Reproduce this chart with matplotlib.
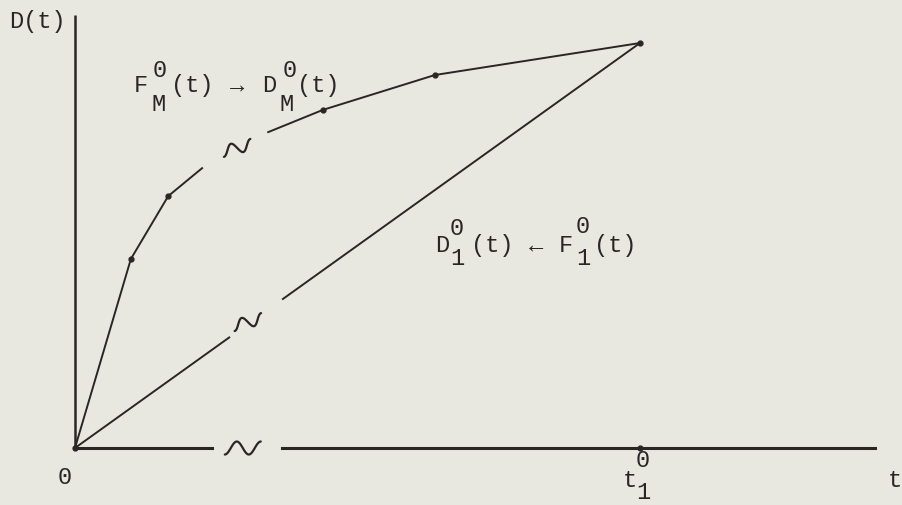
import matplotlib
matplotlib.use("Agg")
import matplotlib.pyplot as plt
import matplotlib.transforms as mtransforms
import numpy as np

# upper curve F_M^0(t) -> D_M^0(t), broken between index 3 and 4
t_upper = [0.0, 0.099, 0.165, 0.225, 0.342, 0.439, 0.637, 1.0]
d_upper = [0.0, 0.467, 0.622, 0.691, 0.780, 0.835, 0.921, 1.0]
upper_break = 4
upper_dots = [1, 2, 5, 6, 7]

# straight line D_1^0(t) <- F_1^0(t), with a gap
t_lower = [0.0, 0.273, 0.368, 1.0]
d_lower = [0.0, 0.273, 0.368, 1.0]

# horizontal axis, with a gap
t_axis = [0.0, 0.242, 0.366, 1.416]
y_top = 1.069
t1 = 1.0

ink = "#2a2626"
bg = "#e8e8e0"
mono = ["Liberation Mono", "DejaVu Sans Mono"]

fig = plt.figure(figsize=(9.02, 5.05), dpi=100, facecolor=bg)
ax = fig.add_axes([0, 0, 1, 1])
ax.set_facecolor(bg)
ax.set_xlim(-0.1327, 1.4637)
ax.set_ylim(-0.1407, 1.1062)
ax.axis("off")

# axes
ax.plot([0, 0], [0, y_top], color=ink, lw=1.8, solid_capstyle="butt")
ax.plot(t_axis[:2], [0, 0], color=ink, lw=2.2)
ax.plot(t_axis[2:], [0, 0], color=ink, lw=2.2)

# curves
ax.plot(t_upper[:upper_break], d_upper[:upper_break], color=ink, lw=1.4)
ax.plot(t_upper[upper_break:], d_upper[upper_break:], color=ink, lw=1.4)
ax.plot([t_upper[i] for i in upper_dots], [d_upper[i] for i in upper_dots],
        "o", color=ink, ms=3.5)
ax.plot(t_lower[:2], d_lower[:2], color=ink, lw=1.4)
ax.plot(t_lower[2:], d_lower[2:], color=ink, lw=1.4)
ax.plot([0, t1], [0, 0], "o", color=ink, ms=3.5)


def tilde(x, y, w, h, angle):
    # small hand-drawn style "~" break mark centred on (x, y), size in inches
    u = np.linspace(0, 1, 80)
    px = (u - 0.5) * w
    py = -np.cos(3 * np.pi * u) * h / 2
    tr = (mtransforms.Affine2D().rotate_deg(angle) + fig.dpi_scale_trans
          + mtransforms.ScaledTranslation(x, y, ax.transData))
    ax.plot(px, py, color=ink, lw=1.6, transform=tr, solid_capstyle="round")


tilde(0.297, 0.0, 0.36, 0.13, 0)
tilde(0.287, 0.741, 0.30, 0.11, 14)
tilde(0.306, 0.311, 0.30, 0.11, 14)

fs = 17
kw = dict(family=mono, fontsize=fs, color=ink, va="center")

ax.text(-0.117, 1.052, "D(t)", ha="left", **kw)
ax.text(-0.018, -0.074, "0", ha="center", **kw)
ax.text(1.451, -0.079, "t", ha="center", **kw)
ax.text(0.982, -0.081, "t", ha="center", **kw)
ax.text(1.005, -0.032, "0", ha="center", **kw)
ax.text(1.005, -0.111, "1", ha="center", **kw)

# F_M^0(t) -> D_M^0(t)
ax.text(0.104, 0.896, "F", ha="left", **kw)
ax.text(0.150, 0.933, "0", ha="center", **kw)
ax.text(0.148, 0.849, "M", ha="center", **kw)
ax.text(0.170, 0.896, "(t)", ha="left", **kw)
ax.text(0.287, 0.896, "\u2192", ha="center", **kw)
ax.text(0.331, 0.896, "D", ha="left", **kw)
ax.text(0.380, 0.933, "0", ha="center", **kw)
ax.text(0.374, 0.849, "M", ha="center", **kw)
ax.text(0.393, 0.896, "(t)", ha="left", **kw)

# D_1^0(t) <- F_1^0(t)
ax.text(0.637, 0.501, "D", ha="left", **kw)
ax.text(0.676, 0.543, "0", ha="center", **kw)
ax.text(0.676, 0.467, "1", ha="center", **kw)
ax.text(0.701, 0.501, "(t)", ha="left", **kw)
ax.text(0.816, 0.501, "\u2190", ha="center", **kw)
ax.text(0.856, 0.501, "F", ha="left", **kw)
ax.text(0.899, 0.548, "0", ha="center", **kw)
ax.text(0.899, 0.467, "1", ha="center", **kw)
ax.text(0.918, 0.501, "(t)", ha="left", **kw)

fig.savefig("out.png", dpi=100, facecolor=bg)
